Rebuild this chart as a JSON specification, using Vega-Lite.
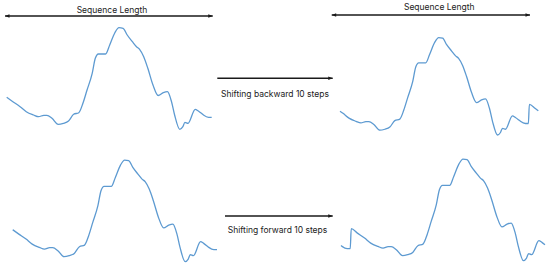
{
  "$schema": "https://vega.github.io/schema/vega-lite/v6.json",
  "padding": 0,
  "bounds": "flush",
  "spacing": 0,
  "columns": 3,
  "config": {
    "view": {"stroke": null},
    "line": {"color": "#5d9ad1", "strokeWidth": 1.3, "interpolate": "monotone"},
    "rule": {"color": "#1a1a1a", "strokeWidth": 1.4},
    "point": {"filled": true, "color": "#1a1a1a", "opacity": 1},
    "text": {"font": "Inter", "fontSize": 8.5, "color": "#222222", "align": "center", "baseline": "alphabetic"}
  },
  "datasets": {
    "orig": [
      {"t": 0, "v": 37.7}, {"t": 6, "v": 33.3}, {"t": 13, "v": 28.3}, {"t": 19, "v": 23.3}, {"t": 26, "v": 20},
      {"t": 31, "v": 18.3}, {"t": 36, "v": 19.7}, {"t": 39, "v": 19.7}, {"t": 44, "v": 16.7}, {"t": 50, "v": 10.7},
      {"t": 55, "v": 11.7}, {"t": 60, "v": 14}, {"t": 65, "v": 20.7}, {"t": 70, "v": 22.3}, {"t": 74, "v": 31.7},
      {"t": 78, "v": 45}, {"t": 83, "v": 61.7}, {"t": 86, "v": 76.7}, {"t": 89, "v": 81}, {"t": 96, "v": 81},
      {"t": 100, "v": 90}, {"t": 105, "v": 102.3}, {"t": 109, "v": 107.3}, {"t": 113, "v": 106.7}, {"t": 117, "v": 100},
      {"t": 122, "v": 93.3}, {"t": 126, "v": 88.3}, {"t": 129, "v": 85.7}, {"t": 133, "v": 78.3}, {"t": 137, "v": 66.7},
      {"t": 142, "v": 50}, {"t": 147, "v": 39.5}, {"t": 152, "v": 42.3}, {"t": 156, "v": 43.3}, {"t": 160, "v": 33.3},
      {"t": 163, "v": 20}, {"t": 168, "v": 5.7}, {"t": 171, "v": 8.3}, {"t": 173, "v": 12.7}, {"t": 176, "v": 11.7},
      {"t": 183, "v": 25.7}, {"t": 186, "v": 24}, {"t": 189, "v": 21.7}, {"t": 191, "v": 20}, {"t": 196, "v": 17.7},
      {"t": 199, "v": 17.7}
    ],
    "back": [
      {"t": 0, "v": 30.5}, {"t": 3, "v": 28.3}, {"t": 9, "v": 23.3}, {"t": 16, "v": 20}, {"t": 21, "v": 18.3},
      {"t": 26, "v": 19.7}, {"t": 29, "v": 19.7}, {"t": 34, "v": 16.7}, {"t": 40, "v": 10.7}, {"t": 45, "v": 11.7},
      {"t": 50, "v": 14}, {"t": 55, "v": 20.7}, {"t": 60, "v": 22.3}, {"t": 64, "v": 31.7}, {"t": 68, "v": 45},
      {"t": 73, "v": 61.7}, {"t": 76, "v": 76.7}, {"t": 79, "v": 81}, {"t": 86, "v": 81}, {"t": 90, "v": 90},
      {"t": 95, "v": 102.3}, {"t": 99, "v": 107.3}, {"t": 103, "v": 106.7}, {"t": 107, "v": 100}, {"t": 112, "v": 93.3},
      {"t": 116, "v": 88.3}, {"t": 119, "v": 85.7}, {"t": 123, "v": 78.3}, {"t": 127, "v": 66.7}, {"t": 132, "v": 50},
      {"t": 137, "v": 39.5}, {"t": 142, "v": 42.3}, {"t": 146, "v": 43.3}, {"t": 150, "v": 33.3}, {"t": 153, "v": 20},
      {"t": 158, "v": 5.7}, {"t": 161, "v": 8.3}, {"t": 163, "v": 12.7}, {"t": 166, "v": 11.7}, {"t": 173, "v": 25.7},
      {"t": 176, "v": 24}, {"t": 179, "v": 21.7}, {"t": 181, "v": 20}, {"t": 186, "v": 17.7}, {"t": 189, "v": 17.7},
      {"t": 190, "v": 37.7}, {"t": 196, "v": 33.3}, {"t": 199, "v": 30.9}
    ],
    "fwd": [
      {"t": 0, "v": 20.8}, {"t": 1, "v": 20}, {"t": 6, "v": 17.7}, {"t": 9, "v": 17.7},
      {"t": 10, "v": 37.7}, {"t": 16, "v": 33.3}, {"t": 23, "v": 28.3}, {"t": 29, "v": 23.3}, {"t": 36, "v": 20},
      {"t": 41, "v": 18.3}, {"t": 46, "v": 19.7}, {"t": 49, "v": 19.7}, {"t": 54, "v": 16.7}, {"t": 60, "v": 10.7},
      {"t": 65, "v": 11.7}, {"t": 70, "v": 14}, {"t": 75, "v": 20.7}, {"t": 80, "v": 22.3}, {"t": 84, "v": 31.7},
      {"t": 88, "v": 45}, {"t": 93, "v": 61.7}, {"t": 96, "v": 76.7}, {"t": 99, "v": 81}, {"t": 106, "v": 81},
      {"t": 110, "v": 90}, {"t": 115, "v": 102.3}, {"t": 119, "v": 107.3}, {"t": 123, "v": 106.7}, {"t": 127, "v": 100},
      {"t": 132, "v": 93.3}, {"t": 136, "v": 88.3}, {"t": 139, "v": 85.7}, {"t": 143, "v": 78.3}, {"t": 147, "v": 66.7},
      {"t": 152, "v": 50}, {"t": 157, "v": 39.5}, {"t": 162, "v": 42.3}, {"t": 166, "v": 43.3}, {"t": 170, "v": 33.3},
      {"t": 173, "v": 20}, {"t": 178, "v": 5.7}, {"t": 181, "v": 8.3}, {"t": 183, "v": 12.7}, {"t": 186, "v": 11.7},
      {"t": 193, "v": 25.7}, {"t": 196, "v": 24}, {"t": 199, "v": 21.7}
    ]
  },
  "concat": [
    {
      "width": 215,
      "height": 134,
      "encoding": {
        "x": {"field": "t", "type": "quantitative", "scale": {"domain": [-6.5, 202.2], "nice": false, "zero": false}, "axis": null},
        "y": {"field": "v", "type": "quantitative", "scale": {"domain": [1, 135], "nice": false, "zero": false}, "axis": null}
      },
      "layer": [
        {"data": {"name": "orig"}, "mark": {"type": "line"}},
        {"data": {"values": [{"t": -1.6, "t2": 200, "v": 119}]}, "mark": {"type": "rule"}, "encoding": {"x2": {"field": "t2"}}},
        {"data": {"values": [{"t": -1.6, "v": 119, "dir": "left"}, {"t": 200, "v": 119, "dir": "right"}]},
         "mark": {"type": "point", "size": 20},
         "encoding": {"shape": {"field": "dir", "type": "nominal", "scale": {"domain": ["left", "right"], "range": ["M0,0L2,-0.8L2,0.8Z", "M0,0L-2,-0.8L-2,0.8Z"]}, "legend": null}}},
        {"data": {"values": [{"t": 102.2, "v": 122.3, "label": "Sequence Length"}]}, "mark": {"type": "text"}, "encoding": {"text": {"field": "label"}}}
      ]
    },
    {
      "width": 120,
      "height": 134,
      "encoding": {
        "x": {"field": "t", "type": "quantitative", "scale": {"domain": [0, 120], "nice": false, "zero": false}, "axis": null},
        "y": {"field": "v", "type": "quantitative", "scale": {"domain": [0, 134], "nice": false, "zero": false, "reverse": true}, "axis": null}
      },
      "layer": [
        {"data": {"values": [{"t": 2.3, "t2": 117.7, "v": 78.3}]}, "mark": {"type": "rule"}, "encoding": {"x2": {"field": "t2"}}},
        {"data": {"values": [{"t": 117.7, "v": 78.3}]}, "mark": {"type": "point", "size": 20, "shape": "M0,0L-2,-0.8L-2,0.8Z"}},
        {"data": {"values": [{"t": 60, "v": 96.7, "label": "Shifting backward 10 steps"}]}, "mark": {"type": "text"}, "encoding": {"text": {"field": "label"}}}
      ]
    },
    {
      "width": 215,
      "height": 134,
      "encoding": {
        "x": {"field": "t", "type": "quantitative", "scale": {"domain": [-5.02, 210.7], "nice": false, "zero": false}, "axis": null},
        "y": {"field": "v", "type": "quantitative", "scale": {"domain": [6.74, 146.6], "nice": false, "zero": false}, "axis": null}
      },
      "layer": [
        {"data": {"name": "back"}, "mark": {"type": "line"}},
        {"data": {"values": [{"t": -8.3, "t2": 190.6, "v": 131}]}, "mark": {"type": "rule"}, "encoding": {"x2": {"field": "t2"}}},
        {"data": {"values": [{"t": -8.3, "v": 131, "dir": "left"}, {"t": 190.6, "v": 131, "dir": "right"}]},
         "mark": {"type": "point", "size": 20},
         "encoding": {"shape": {"field": "dir", "type": "nominal", "scale": {"domain": ["left", "right"], "range": ["M0,0L2,-0.8L2,0.8Z", "M0,0L-2,-0.8L-2,0.8Z"]}, "legend": null}}},
        {"data": {"values": [{"t": 99.6, "v": 136.2, "label": "Sequence Length"}]}, "mark": {"type": "text"}, "encoding": {"text": {"field": "label"}}}
      ]
    },
    {
      "width": 215,
      "height": 133,
      "encoding": {
        "x": {"field": "t", "type": "quantitative", "scale": {"domain": [-12.37, 197.06], "nice": false, "zero": false}, "axis": null},
        "y": {"field": "v", "type": "quantitative", "scale": {"domain": [0.4, 133.4], "nice": false, "zero": false}, "axis": null}
      },
      "layer": [
        {"data": {"name": "orig"}, "mark": {"type": "line"}}
      ]
    },
    {
      "width": 120,
      "height": 133,
      "encoding": {
        "x": {"field": "t", "type": "quantitative", "scale": {"domain": [0, 120], "nice": false, "zero": false}, "axis": null},
        "y": {"field": "v", "type": "quantitative", "scale": {"domain": [0, 133], "nice": false, "zero": false, "reverse": true}, "axis": null}
      },
      "layer": [
        {"data": {"values": [{"t": 10, "t2": 117.7, "v": 82}]}, "mark": {"type": "rule"}, "encoding": {"x2": {"field": "t2"}}},
        {"data": {"values": [{"t": 117.7, "v": 82}]}, "mark": {"type": "point", "size": 20, "shape": "M0,0L-2,-0.8L-2,0.8Z"}},
        {"data": {"values": [{"t": 62.5, "v": 99.3, "label": "Shifting forward 10 steps"}]}, "mark": {"type": "text"}, "encoding": {"text": {"field": "label"}}}
      ]
    },
    {
      "width": 215,
      "height": 133,
      "encoding": {
        "x": {"field": "t", "type": "quantitative", "scale": {"domain": [-5.85, 203.9], "nice": false, "zero": false}, "axis": null},
        "y": {"field": "v", "type": "quantitative", "scale": {"domain": [-0.6, 132.4], "nice": false, "zero": false}, "axis": null}
      },
      "layer": [
        {"data": {"name": "fwd"}, "mark": {"type": "line"}}
      ]
    }
  ],
  "resolve": {"scale": {"x": "independent", "y": "independent", "shape": "independent"}}
}
